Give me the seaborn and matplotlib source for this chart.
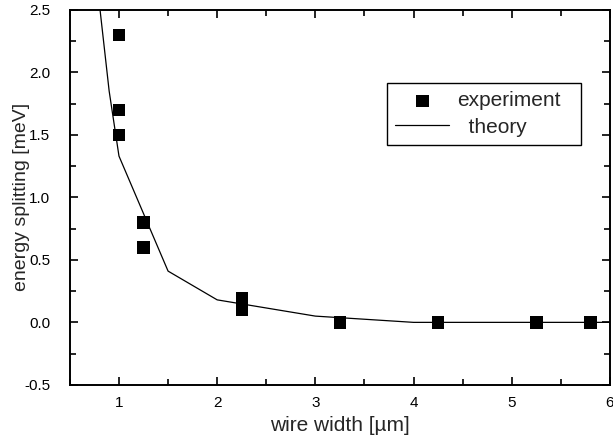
import numpy as np
import pandas as pd
import seaborn as sns
import matplotlib.pyplot as plt
from matplotlib.ticker import MultipleLocator

# experiment data
exp_width = [1.0, 1.0, 1.0, 1.25, 1.25, 2.25, 2.25, 3.25, 4.25, 5.25, 5.8]
exp_split = [2.3, 1.7, 1.5, 0.8, 0.6, 0.19, 0.1, 0.0, 0.0, 0.0, 0.0]

# theory curve
th_width = [0.8, 0.9, 1.0, 1.5, 2.0, 3.0, 4.0, 5.0, 6.0]
th_split = [2.55, 1.85, 1.33, 0.41, 0.18, 0.05, 0.0, 0.0, 0.0]

df_exp = pd.DataFrame({'width': exp_width, 'split': exp_split})
df_th = pd.DataFrame({'width': th_width, 'split': th_split})

sns.set_style('ticks')
plt.rcParams['font.family'] = ['Liberation Sans', 'DejaVu Sans']

fig = plt.figure(figsize=(6.13, 4.47), dpi=100)
ax = fig.add_axes([0.114, 0.139, 0.881, 0.839])

sns.lineplot(x='width', y='split', data=df_th, color='black', linewidth=0.9,
             estimator=None, sort=False, ax=ax, label='  theory')
sns.scatterplot(x='width', y='split', data=df_exp, marker='s', s=80, color='black',
                edgecolor='none', ax=ax, label='experiment', zorder=3)

ax.set_xlim(0.5, 6)
ax.set_ylim(-0.5, 2.5)
ax.xaxis.set_major_locator(MultipleLocator(1))
ax.xaxis.set_minor_locator(MultipleLocator(0.5))
ax.yaxis.set_major_locator(MultipleLocator(0.5))
ax.yaxis.set_minor_locator(MultipleLocator(0.25))
ax.set_yticks(np.arange(-0.5, 2.51, 0.5))
ax.set_yticklabels([f'{v:.1f}' for v in np.arange(-0.5, 2.51, 0.5)])

ax.tick_params(which='both', direction='in', top=True, right=True, width=1.2,
               labelsize=11, colors='black')
ax.tick_params(which='major', length=6)
ax.tick_params(which='minor', length=4)
ax.tick_params(axis='y', pad=14)
ax.tick_params(axis='x', pad=8)
for s in ax.spines.values():
    s.set_linewidth(1.4)
    s.set_color('black')

ax.set_xlabel('wire width [µm]', fontsize=15, labelpad=4)
ax.set_ylabel('energy splitting [meV]', fontsize=14)
ax.yaxis.set_label_coords(-0.074, 0.5)

h, l = ax.get_legend_handles_labels()
leg = ax.legend(h[::-1], l[::-1], loc='upper left',
                bbox_to_anchor=(0.587, 0.64, 0.359, 0.165), mode='expand',
                fontsize=15, frameon=True, fancybox=False, edgecolor='black',
                framealpha=1, handlelength=2.6, handletextpad=0.35, markerscale=1.0,
                borderpad=0.4, labelspacing=0.35, borderaxespad=0)
leg.get_frame().set_linewidth(1.0)

fig.savefig('out.png', dpi=100)
